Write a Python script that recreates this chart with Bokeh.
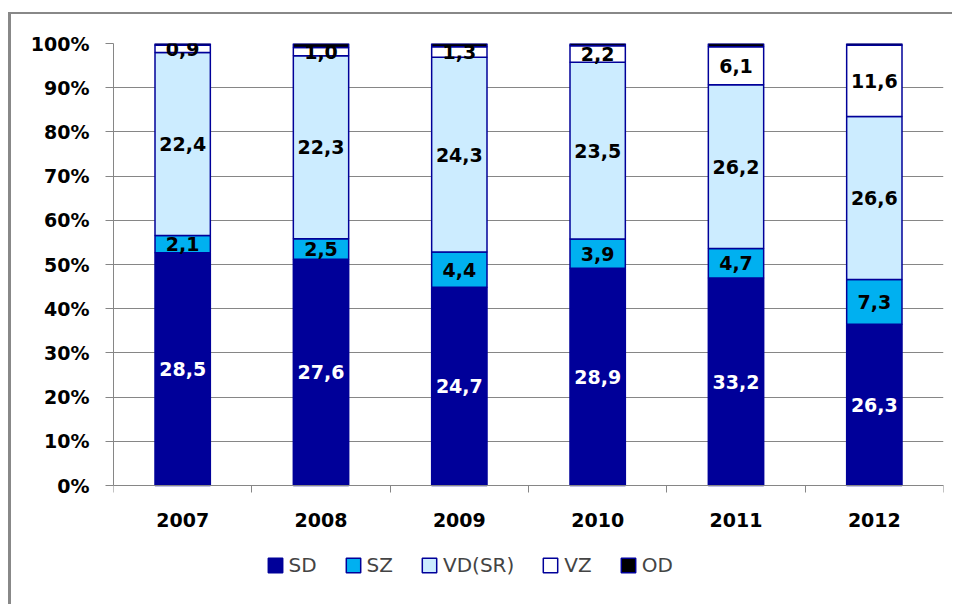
from bokeh.plotting import figure
from bokeh.models import (ColumnDataSource, FixedTicker, NumeralTickFormatter,
                          Legend, LegendItem, Range1d)
from bokeh.embed import file_html
from bokeh.resources import INLINE
from bokeh.core.properties import value

# ---- data ----
years = ["2007", "2008", "2009", "2010", "2011", "2012"]
series = ["SD", "SZ", "VD(SR)", "VZ", "OD"]
SD = [28.5, 27.6, 24.7, 28.9, 33.2, 26.3]
SZ = [2.1, 2.5, 4.4, 3.9, 4.7, 7.3]
VD = [22.4, 22.3, 24.3, 23.5, 26.2, 26.6]
VZ = [0.9, 1.0, 1.3, 2.2, 6.1, 11.6]
OD = [0.2, 0.5, 0.4, 0.3, 0.5, 0.3]
y_ticks = [0, 0.1, 0.2, 0.3, 0.4, 0.5, 0.6, 0.7, 0.8, 0.9, 1.0]

fills = ["#000099", "#00B0F0", "#CCECFF", "#FFFFFF", "#000000"]
label_colors = ["white", "black", "black", "black", None]
FONT = "DejaVu Sans"

all_vals = [SD, SZ, VD, VZ, OD]
totals = [sum(v) for v in zip(*all_vals)]
xpos = [i + 1 for i in range(len(years))]
keys = ["sd", "sz", "vd", "vz", "od"]
data = {"x": xpos}
for k, vals in zip(keys, all_vals):
    data[k] = [v / t for v, t in zip(vals, totals)]
src = ColumnDataSource(data)

# layout: frame is 548 px tall; 0..100% occupies 442 px, the rest holds axis labels + legend
FRAME_H, AXIS_H = 548, 442
y_start = 1 - FRAME_H / AXIS_H

p = figure(width=944, height=592, x_range=Range1d(0.5, len(years) + 0.5),
           y_range=Range1d(y_start, 1), output_backend="svg", toolbar_location=None,
           min_border_left=102, min_border_right=12, min_border_top=29,
           min_border_bottom=15)
p.outline_line_color = None
p.background_fill_color = "white"
p.border_fill_color = "white"
p.styles = {"margin-left": "8px", "margin-top": "12px",
            "border-left": "3px solid #888888", "border-top": "2px solid #888888"}

rs = p.vbar_stack(keys, x="x", width=0.4, source=src, fill_color=fills,
                  line_color="#000099", line_width=1.5)

# data labels
lx, ly, lt, lc = [], [], [], []
cum = [0.0] * len(years)
for si, k in enumerate(keys):
    for i in range(len(years)):
        frac = data[k][i]
        if label_colors[si] is not None:
            lx.append(xpos[i])
            ly.append(cum[i] + frac / 2)
            lt.append(f"{all_vals[si][i]:.1f}".replace(".", ","))
            lc.append(label_colors[si])
        cum[i] += frac
lsrc = ColumnDataSource(dict(x=lx, y=ly, t=lt, c=lc))
p.text(x="x", y="y", text="t", text_color="c", source=lsrc,
       text_font=value(FONT), text_font_style="bold", text_font_size="19px",
       text_align="center", text_baseline="middle")

# axes
GRAY = "#868686"
xa = p.xaxis[0]
xa.fixed_location = 0
xa.ticker = FixedTicker(ticks=xpos, minor_ticks=[x - 0.5 for x in xpos] + [xpos[-1] + 0.5])
xa.major_label_overrides = {x: y for x, y in zip(xpos, years)}
xa.major_tick_out = 0
xa.major_tick_in = 0
xa.minor_tick_out = 7
xa.minor_tick_in = 0
xa.minor_tick_line_color = GRAY
xa.axis_line_color = GRAY
xa.major_label_standoff = 20
xa.major_label_text_font = FONT
xa.major_label_text_font_style = "bold"
xa.major_label_text_font_size = "19px"
xa.major_label_text_color = "black"

ya = p.yaxis[0]
ya.bounds = (0, 1)
ya.ticker = FixedTicker(ticks=y_ticks)
ya.formatter = NumeralTickFormatter(format="0%")
ya.major_tick_out = 8
ya.major_tick_in = 0
ya.minor_tick_line_color = None
ya.major_tick_line_color = GRAY
ya.axis_line_color = GRAY
ya.major_label_standoff = 16
ya.major_label_text_font = FONT
ya.major_label_text_font_style = "bold"
ya.major_label_text_font_size = "19px"
ya.major_label_text_color = "black"

p.xgrid.visible = False
p.ygrid.ticker = FixedTicker(ticks=y_ticks)
p.ygrid.grid_line_color = GRAY
p.ygrid.grid_line_width = 1

# legend (inside the extended frame, below the axis labels)
items = [LegendItem(label=s, renderers=[r]) for s, r in zip(series, rs)]
legend = Legend(items=items, orientation="horizontal", location=(152.5, 14.5),
                glyph_width=18, glyph_height=18, label_standoff=5, spacing=27,
                padding=0, margin=0, border_line_color=None,
                background_fill_alpha=0, label_text_font=FONT,
                label_text_font_size="20px", label_height=18,
                label_text_baseline="middle")
p.add_layout(legend)

open("out.html", "w").write(file_html(p, INLINE))
